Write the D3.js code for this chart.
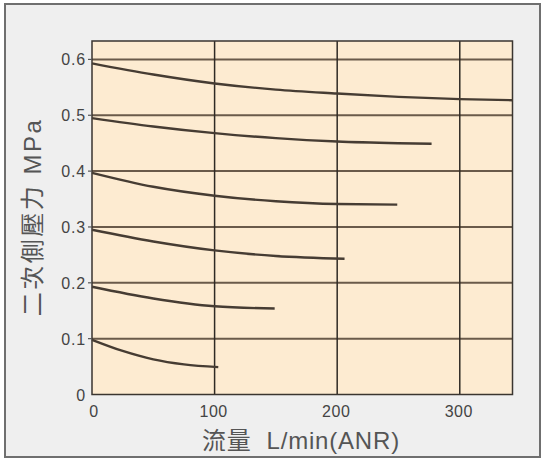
<!DOCTYPE html>
<html><head><meta charset="utf-8">
<script src="https://cdn.jsdelivr.net/npm/d3@7"></script>
<style>body{margin:0;background:#fff;}svg{display:block;}</style>
</head><body>
<script>
// Data
const xTicks = [0, 100, 200, 300];
const yTicks = [0, 0.1, 0.2, 0.3, 0.4, 0.5, 0.6];
const yTickLabels = ["0", "0.1", "0.2", "0.3", "0.4", "0.5", "0.6"];
const flow060 = [0, 50, 100, 150, 200, 250, 300, 343];
const pres060 = [0.593, 0.573, 0.557, 0.546, 0.539, 0.533, 0.529, 0.527];
const flow050 = [0, 50, 100, 150, 200, 250, 277];
const pres050 = [0.495, 0.480, 0.468, 0.459, 0.453, 0.450, 0.449];
const flow040 = [0, 50, 100, 150, 200, 249];
const pres040 = [0.397, 0.372, 0.356, 0.346, 0.341, 0.340];
const flow030 = [0, 50, 100, 150, 206];
const pres030 = [0.295, 0.274, 0.258, 0.248, 0.243];
const flow020 = [0, 50, 100, 149];
const pres020 = [0.193, 0.172, 0.158, 0.154];
const flow010 = [0, 25, 50, 75, 103];
const pres010 = [0.098, 0.078, 0.063, 0.054, 0.049];
const xTitle = "流量  L/min(ANR)";
const yTitle = "二次側壓力 MPa";

const series = [
  [flow060, pres060], [flow050, pres050], [flow040, pres040],
  [flow030, pres030], [flow020, pres020], [flow010, pres010]
];

const W = 547, H = 461;
const svg = d3.select("body").append("svg").attr("width", W).attr("height", H);

// outer frame
svg.append("rect").attr("x", 5).attr("y", 4).attr("width", 535).attr("height", 453)
  .attr("fill", "#efefef").attr("stroke", "#6f6f6f").attr("stroke-width", 2);

const x = d3.scaleLinear().domain([0, 343]).range([92, 512.5]);
const y = d3.scaleLinear().domain([0, 0.633]).range([394.5, 41]);

const g = svg.append("g");
g.append("rect").attr("x", x(0)).attr("y", y(0.633))
  .attr("width", x(343) - x(0)).attr("height", y(0) - y(0.633))
  .attr("fill", "#fdebd1");

// horizontal gridlines
g.selectAll(".hg").data(yTicks.filter(d => d > 0)).enter().append("line")
  .attr("x1", x(0)).attr("x2", x(343))
  .attr("y1", d => y(d)).attr("y2", d => y(d))
  .attr("stroke", "#6a5a4a").attr("stroke-width", 2);

// vertical gridlines
g.selectAll(".vg").data(xTicks.filter(d => d > 0)).enter().append("line")
  .attr("x1", d => x(d)).attr("x2", d => x(d))
  .attr("y1", y(0)).attr("y2", y(0.633))
  .attr("stroke", "#2f2a25").attr("stroke-width", 1.5);

// plot border
g.append("rect").attr("x", x(0)).attr("y", y(0.633))
  .attr("width", x(343) - x(0)).attr("height", y(0) - y(0.633))
  .attr("fill", "none").attr("stroke", "#3a3530").attr("stroke-width", 1.5);

// curves
const line = d3.line().x(d => x(d[0])).y(d => y(d[1])).curve(d3.curveMonotoneX);
series.forEach(([fx, py]) => {
  g.append("path").datum(fx.map((v, i) => [v, py[i]]))
    .attr("d", line).attr("fill", "none")
    .attr("stroke", "#463c33").attr("stroke-width", 2.4);
});

// y axis labels
const font = "Liberation Sans, Arial, sans-serif";
svg.selectAll(".yl").data(yTicks).enter().append("text")
  .attr("x", 86).attr("y", d => y(d) + 6)
  .attr("text-anchor", "end").attr("font-family", font).attr("font-size", 16)
  .attr("letter-spacing", 0.8)
  .attr("fill", "#444").text((d, i) => yTickLabels[i]);
// small tick marks
svg.selectAll(".yt").data(yTicks.filter(d => d > 0)).enter().append("line")
  .attr("x1", 88).attr("x2", 92).attr("y1", d => y(d)).attr("y2", d => y(d))
  .attr("stroke", "#555").attr("stroke-width", 1.2);

// x axis labels
svg.selectAll(".xl").data(xTicks).enter().append("text")
  .attr("x", d => x(d) + (d === 0 ? 2 : -1)).attr("y", 417)
  .attr("text-anchor", "middle").attr("font-family", font).attr("font-size", 16)
  .attr("letter-spacing", 0.5)
  .attr("fill", "#444").text(d => d);

// titles
svg.append("text").attr("x", 301).attr("y", 449)
  .attr("text-anchor", "middle").attr("font-family", "Liberation Sans, 'Noto Sans CJK TC', sans-serif")
  .attr("font-size", 24).attr("fill", "#555").attr("letter-spacing", 0.8)
  .attr("xml:space", "preserve").style("white-space", "pre").text(xTitle);

svg.append("text").attr("transform", "translate(41,217) rotate(-90)")
  .attr("text-anchor", "middle").attr("font-family", "Liberation Sans, 'Noto Sans CJK TC', sans-serif")
  .attr("font-size", 24).attr("fill", "#555").attr("letter-spacing", 2.5)
  .text(yTitle);
</script>
</body></html>
